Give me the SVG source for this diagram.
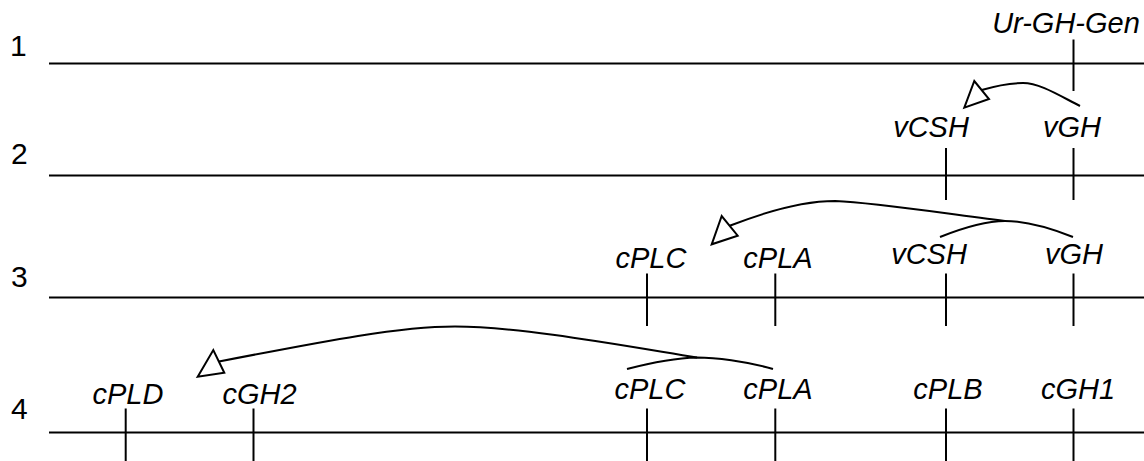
<svg xmlns="http://www.w3.org/2000/svg" width="1144" height="461" viewBox="0 0 1144 461">
  <style>
    .axis { stroke: #000; stroke-width: 2; fill: none; }
    .tick { stroke: #000; stroke-width: 2; fill: none; }
    .num  { font-family: "Liberation Sans", Arial, Helvetica, sans-serif; font-size: 30px; fill: #000; }
    .lbl  { font-family: "Liberation Sans", Arial, Helvetica, sans-serif; font-size: 29px; font-style: italic; text-anchor: middle; fill: #000; }
    .conn { fill: none; stroke: #000; stroke-width: 2; }
    .head { fill: #fff; stroke: #000; stroke-width: 2; stroke-linejoin: miter; }
  </style>
  <rect width="1144" height="461" fill="#fff"/>

  <!-- stage rows: numbered baselines -->
  <g id="row-1">
    <text class="num" x="10" y="56">1</text>
    <line class="axis" x1="49" y1="63.5" x2="1144" y2="63.5"/>
  </g>
  <g id="row-2">
    <text class="num" x="11" y="164">2</text>
    <line class="axis" x1="49" y1="175.5" x2="1144" y2="175.5"/>
  </g>
  <g id="row-3">
    <text class="num" x="11" y="287">3</text>
    <line class="axis" x1="49" y1="297.5" x2="1144" y2="297.5"/>
  </g>
  <g id="row-4">
    <text class="num" x="11" y="419">4</text>
    <line class="axis" x1="49" y1="432.5" x2="1144" y2="432.5"/>
  </g>

  <!-- row 1 genes -->
  <g id="r1-ur-gh-gen">
    <line class="tick" x1="1073.5" y1="39.5" x2="1073.5" y2="91"/>
    <text class="lbl" x="1066" y="33">Ur-GH-Gen</text>
  </g>

  <!-- row 2 genes -->
  <g id="r2-vcsh">
    <line class="tick" x1="946" y1="148" x2="946" y2="200"/>
    <text class="lbl" x="931" y="137">vCSH</text>
  </g>
  <g id="r2-vgh">
    <line class="tick" x1="1073.5" y1="148" x2="1073.5" y2="200"/>
    <text class="lbl" x="1072" y="137">vGH</text>
  </g>

  <!-- row 3 genes -->
  <g id="r3-cplc">
    <line class="tick" x1="647" y1="273.5" x2="647" y2="326"/>
    <text class="lbl" x="651" y="268">cPLC</text>
  </g>
  <g id="r3-cpla">
    <line class="tick" x1="775.3" y1="273.5" x2="775.3" y2="326"/>
    <text class="lbl" x="778" y="268">cPLA</text>
  </g>
  <g id="r3-vcsh">
    <line class="tick" x1="946" y1="273.5" x2="946" y2="326"/>
    <text class="lbl" x="929" y="264">vCSH</text>
  </g>
  <g id="r3-vgh">
    <line class="tick" x1="1073.5" y1="273.5" x2="1073.5" y2="326"/>
    <text class="lbl" x="1074" y="264">vGH</text>
  </g>

  <!-- row 4 genes -->
  <g id="r4-cpld">
    <line class="tick" x1="125.7" y1="408.5" x2="125.7" y2="461"/>
    <text class="lbl" x="128" y="404">cPLD</text>
  </g>
  <g id="r4-cgh2">
    <line class="tick" x1="253.5" y1="408.5" x2="253.5" y2="461"/>
    <text class="lbl" x="259.5" y="404">cGH2</text>
  </g>
  <g id="r4-cplc">
    <line class="tick" x1="647" y1="408.5" x2="647" y2="461"/>
    <text class="lbl" x="650" y="399">cPLC</text>
  </g>
  <g id="r4-cpla">
    <line class="tick" x1="775.3" y1="408.5" x2="775.3" y2="461"/>
    <text class="lbl" x="778" y="399">cPLA</text>
  </g>
  <g id="r4-cplb">
    <line class="tick" x1="946" y1="408.5" x2="946" y2="461"/>
    <text class="lbl" x="948" y="399">cPLB</text>
  </g>
  <g id="r4-cgh1">
    <line class="tick" x1="1073.5" y1="408.5" x2="1073.5" y2="461"/>
    <text class="lbl" x="1078" y="399">cGH1</text>
  </g>

  <!-- duplication arrows -->
  <g id="connectors">
    <!-- vGH copied to vCSH -->
    <path class="conn" d="M1080,106 C1060,96 1040,83 1023,83 C1010,83 995,86 981.7,90"/>
    <polygon class="head" points="964.3,107.7 974.3,81 989,99"/>

    <!-- vCSH + vGH pair copied to cPLC/cPLA -->
    <path class="conn" d="M940,237 C960,229 985,221 1005,221 C1025,221 1050,228 1073,237"/>
    <path class="conn" d="M1005,221 C940,213 880,203 835,201 C805,201 770,210 729.7,225.8"/>
    <polygon class="head" points="711.7,244.3 721.7,216 737.7,235.7"/>

    <!-- cPLC + cPLA pair copied to cPLD/cGH2 -->
    <path class="conn" d="M627,369 C650,363 675,358 697,357.5 C715,357.5 745,361 773,369"/>
    <path class="conn" d="M697,357.5 C620,345 520,326.5 455,326.5 C400,326.5 330,340 219,361.5"/>
    <polygon class="head" points="197.7,376.7 213.3,350 224.3,372.7"/>
  </g>
</svg>
